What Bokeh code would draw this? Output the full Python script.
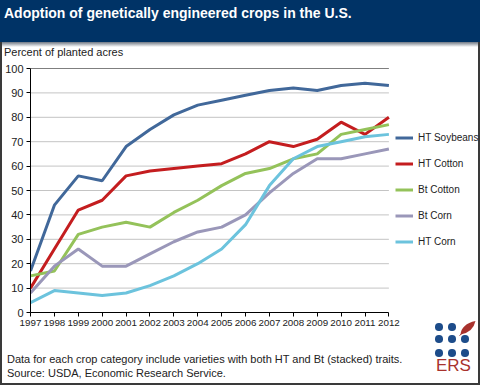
from bokeh.plotting import figure
from bokeh.layouts import column, row
from bokeh.models import Legend, LegendItem, FixedTicker, Range1d, Div
from bokeh.embed import file_html
from bokeh.resources import INLINE

years = list(range(1997, 2013))
ht_soybeans = [17, 44, 56, 54, 68, 75, 81, 85, 87, 89, 91, 92, 91, 93, 94, 93]
ht_cotton = [10, 26, 42, 46, 56, 58, 59, 60, 61, 65, 70, 68, 71, 78, 73, 80]
bt_cotton = [15, 17, 32, 35, 37, 35, 41, 46, 52, 57, 59, 63, 65, 73, 75, 77]
bt_corn = [8, 19, 26, 19, 19, 24, 29, 33, 35, 40, 49, 57, 63, 63, 65, 67]
ht_corn = [4, 9, 8, 7, 8, 11, 15, 20, 26, 36, 52, 63, 68, 70, 72, 73]

series_names = ["HT Soybeans", "HT Cotton", "Bt Cotton", "Bt Corn", "HT Corn"]
series_values = [ht_soybeans, ht_cotton, bt_cotton, bt_corn, ht_corn]
series_colors = ["#41689a", "#c41d1f", "#94c25a", "#9a97b9", "#6cc3dd"]
y_ticks = list(range(0, 101, 10))

title_text = "Adoption of genetically engineered crops in the U.S."
y_title = "Percent of planted acres"
note_text = "Data for each crop category include varieties with both HT and Bt (stacked) traits."
source_text = "Source: USDA, Economic Research Service."

FONT = "Liberation Sans"
CSS_FONT = "font-family:'Liberation Sans',Arial,sans-serif;"
BORDER = "#3a3a3a"
W = 480
H_TOP, H_FIG, H_BOT = 60, 273, 52
BW = 2
PX_PER_YEAR = 24.0
FRAME_W = W - 2 * BW - 26

# ---------- header (banner + y title) ----------
header_html = (
    f'<div style="position:relative;width:{W}px;height:{H_TOP}px;background:white;{CSS_FONT}">'
    f'<div style="position:absolute;left:0;top:0;width:{W}px;height:42px;background:#003366;"></div>'
    f'<div style="position:absolute;left:0;top:42px;width:{W}px;height:5px;'
    f'background:linear-gradient(#6f7884,#ffffff);"></div>'
    f'<div style="position:absolute;left:0;top:42px;width:{BW}px;height:{H_TOP - 42}px;background:{BORDER};"></div>'
    f'<div style="position:absolute;left:{W - BW}px;top:42px;width:{BW}px;height:{H_TOP - 42}px;background:{BORDER};"></div>'
    f'<div style="position:absolute;left:4px;top:4px;color:white;font-weight:bold;'
    f'font-size:14px;line-height:18px;white-space:nowrap;">{title_text}</div>'
    f'<div style="position:absolute;left:4px;top:45px;color:#222;font-size:11px;'
    f'line-height:14px;white-space:nowrap;">{y_title}</div>'
    f'</div>'
)
header = Div(text=header_html, width=W, height=H_TOP, margin=0)

# ---------- chart ----------
x_end = years[0] + FRAME_W / PX_PER_YEAR
p = figure(width=W - 2 * BW, height=H_FIG, output_backend="svg", toolbar_location=None,
           x_range=Range1d(years[0], x_end), y_range=Range1d(0, 100),
           min_border_left=26, min_border_right=0, min_border_top=8,
           min_border_bottom=21)
p.outline_line_color = None
p.background_fill_color = "white"
p.border_fill_color = "white"

p.xgrid.grid_line_color = None
p.ygrid.grid_line_color = None
# horizontal grid lines limited to the year span (as in the reference)
grid_y = y_ticks[1:]
p.segment(x0=[years[0]] * len(grid_y), x1=[years[-1]] * len(grid_y), y0=grid_y, y1=grid_y,
          line_color=["#c4c4c4"] * (len(grid_y) - 1) + ["black"], line_width=1,
          level="underlay")

p.yaxis.ticker = FixedTicker(ticks=y_ticks)
p.xaxis.ticker = FixedTicker(ticks=years)
p.xaxis.bounds = (years[0], years[-1])
for ax in (p.xaxis[0], p.yaxis[0]):
    ax.axis_line_color = "black"
    ax.major_tick_line_color = "black"
    ax.major_tick_out = 4
    ax.major_tick_in = 0
    ax.minor_tick_line_color = None
    ax.major_label_text_font = FONT
    ax.major_label_text_color = "#222222"
p.yaxis.major_label_text_font_size = "11px"
p.yaxis.major_label_standoff = 3
p.xaxis.major_label_text_font_size = "9.8px"
p.xaxis.major_label_standoff = 3

items = []
for name, vals, col in zip(series_names, series_values, series_colors):
    r = p.line(years, vals, line_color=col, line_width=3)
    items.append(LegendItem(label=name, renderers=[r]))

legend = Legend(items=items, location=(365, 60), padding=0, margin=0,
                glyph_width=18, glyph_height=21, label_height=21, spacing=5,
                label_standoff=5, label_text_font=FONT, label_text_font_size="10px",
                label_text_color="#222222", border_line_color=None,
                background_fill_alpha=0)
p.add_layout(legend)

bar_style = {"background-color": BORDER}
left_bar = Div(text="", width=BW, height=H_FIG, margin=0, styles=bar_style)
right_bar = Div(text="", width=BW, height=H_FIG, margin=0, styles=bar_style)
middle = row(left_bar, p, right_bar, spacing=0)

# ---------- footer (notes + ERS logo) ----------
dots = ""
for cy in (-6, 6, 20):
    for cx in (439, 452, 465):
        if cx == 465 and cy == -6:
            continue
        dots += (f'<div style="position:absolute;left:{cx - 3.8}px;top:{cy - 3.8}px;'
                 f'width:7.6px;height:7.6px;border-radius:50%;background:#1d4c8a;"></div>')
leaf = ('<svg style="position:absolute;left:459px;top:-13px;" width="18" height="16" '
        'viewBox="0 0 18 16"><path d="M1.5,14.5 Q2.5,4 16.5,1 Q14,12.5 1.5,14.5 Z" '
        'fill="#a8322d"/><path d="M0.5,15.5 L6,11" stroke="#a8322d" stroke-width="1"/></svg>')
footer_html = (
    f'<div style="position:relative;width:{W}px;height:{H_BOT}px;background:white;{CSS_FONT}">'
    f'<div style="position:absolute;left:0;top:0;width:{BW}px;height:{H_BOT}px;background:{BORDER};"></div>'
    f'<div style="position:absolute;left:{W - BW}px;top:0;width:{BW}px;height:{H_BOT}px;background:{BORDER};"></div>'
    f'<div style="position:absolute;left:0;top:{H_BOT - BW}px;width:{W}px;height:{BW}px;background:{BORDER};"></div>'
    f'<div style="position:absolute;left:7px;top:19px;color:#222;font-size:11px;'
    f'line-height:14px;white-space:nowrap;">{note_text}</div>'
    f'<div style="position:absolute;left:7px;top:33px;color:#222;font-size:11px;'
    f'line-height:14px;white-space:nowrap;">{source_text}</div>'
    f'{dots}{leaf}'
    f'<div style="position:absolute;left:436px;top:23px;color:#a8322d;font-size:17px;'
    f'line-height:20px;white-space:nowrap;">ERS</div>'
    f'</div>'
)
footer = Div(text=footer_html, width=W, height=H_BOT, margin=0,
             styles={"overflow": "visible"})

layout = column(header, middle, footer, spacing=0)

open("out.html", "w").write(file_html(layout, INLINE))
